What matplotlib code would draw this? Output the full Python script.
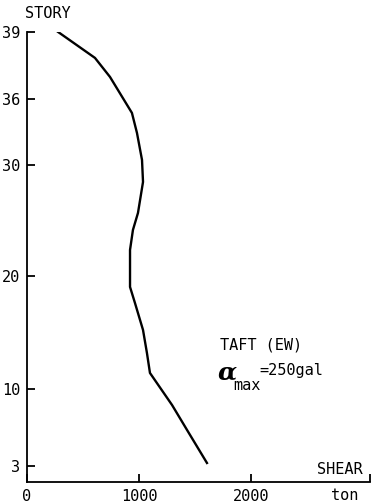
import matplotlib
matplotlib.use("Agg")
import matplotlib.pyplot as plt

# Story positions on the (nonlinear) height axis
story_labels = ["3", "10", "20", "30", "36", "39"]
story_heights = [16, 93, 206, 317, 383, 450]

# Shear profile (ton) vs height coordinate
shear = [277, 607, 741, 937, 982, 1027, 1036, 991, 946, 920, 920, 964, 1036, 1071, 1098, 1295, 1429, 1607]
height = [450, 424, 405, 369, 349, 322, 300, 269, 252, 232, 195, 179, 152, 129, 109, 77, 52, 19]

x_ticks = [0, 1000, 2000, 3060]
x_ticklabels = ["0", "1000", "2000", ""]

plt.rcParams['font.family'] = ['DejaVu Sans Mono', 'DejaVu Sans']

fig = plt.figure(figsize=(3.77, 5.04), dpi=100)
ax = fig.add_axes([0.0716, 0.0437, 0.909, 0.893])

ax.plot(shear, height, color="black", lw=1.7)

ax.set_xlim(0, 3060)
ax.set_ylim(0, 450)
ax.spines['top'].set_visible(False)
ax.spines['right'].set_visible(False)
for s in ['left', 'bottom']:
    ax.spines[s].set_linewidth(1.3)

ax.set_yticks(story_heights)
ax.set_yticklabels(story_labels)
ax.set_xticks(x_ticks)
ax.set_xticklabels(x_ticklabels)
ax.tick_params(axis='both', direction='in', length=6, width=1.3, labelsize=11)
ax.tick_params(axis='y', pad=5)
ax.tick_params(axis='x', pad=5)

fs = 11
fig.text(48 / 377, 1 - 14 / 504, "STORY", ha="center", va="center", fontsize=fs)
fig.text(363 / 377, 1 - 469 / 504, "SHEAR", ha="right", va="center", fontsize=fs)
fig.text(345 / 377, 1 - 495 / 504, "ton", ha="center", va="center", fontsize=fs)
fig.text(220 / 377, 1 - 345 / 504, "TAFT (EW)", ha="left", va="center", fontsize=fs)
fig.text(218 / 377, 1 - 372 / 504, "α", ha="left", va="center", fontsize=18,
         family="DejaVu Serif", style="italic", weight="bold")
fig.text(233 / 377, 1 - 385 / 504, "max", ha="left", va="center", fontsize=fs)
fig.text(259 / 377, 1 - 371 / 504, "=250gal", ha="left", va="center", fontsize=fs)

fig.savefig("out.png", dpi=100)
